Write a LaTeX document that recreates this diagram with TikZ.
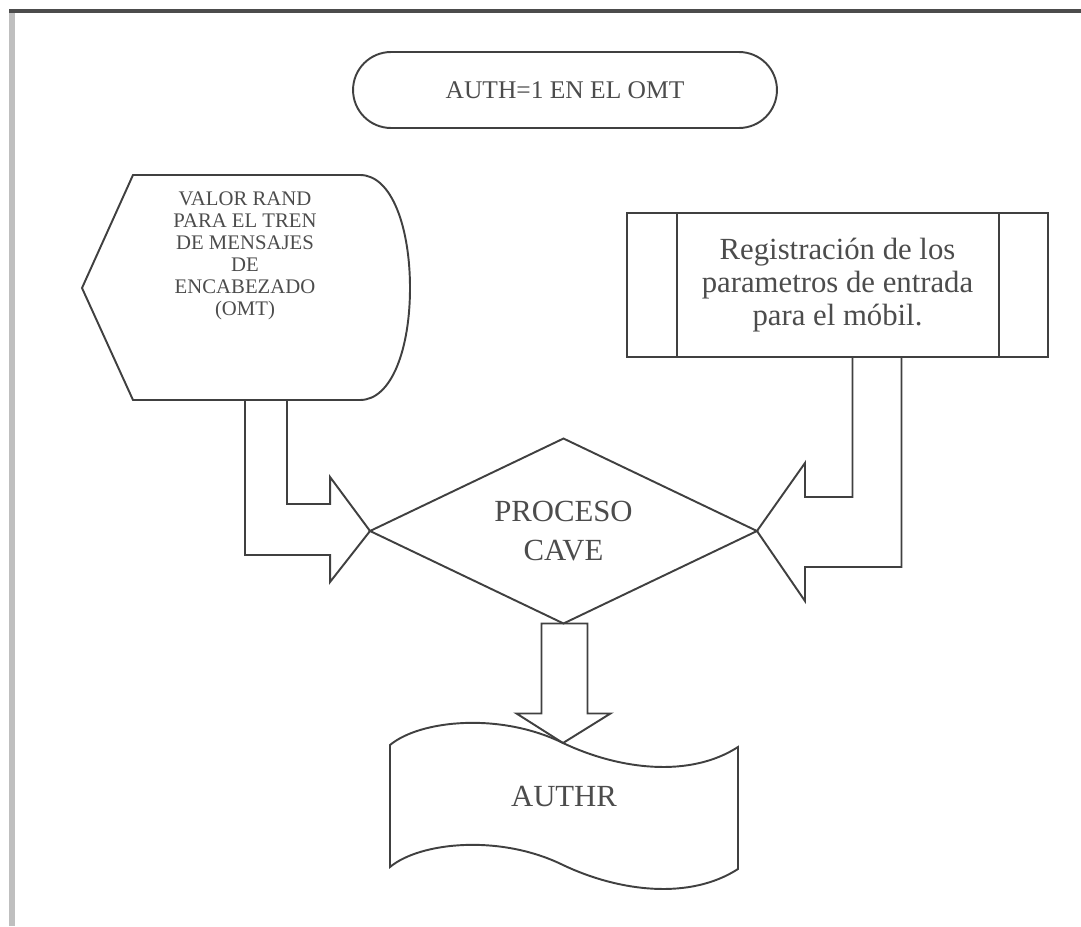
\documentclass[tikz,border=0pt]{standalone}
\usepackage{fontspec}
\setmainfont{Liberation Serif}
\usetikzlibrary{shapes.geometric,calc}
\begin{document}
\begin{tikzpicture}[x=0.02cm,y=-0.02cm,
    shp/.style={draw=black!75,line width=1.1pt,line join=miter},
    txt/.style={text=black!70,align=center,inner sep=0pt}]
    \useasboundingbox (0,0) rectangle (1081,926);
    \draw[black!25,line width=3.5pt] (12,11)--(12,926);
    \draw[black!70,line width=1.8pt] (9,11)--(1081,11);
    \node[shp,txt,rounded corners=0.76cm,minimum width=8.48cm,minimum height=1.52cm,font={\fontsize{14.5}{17}\selectfont}] (auth) at (565,90) {AUTH=1 EN EL OMT};
    \draw[shp] (133,175)--(360,175) .. controls (392,175) and (410,228) .. (410,288) .. controls (410,348) and (392,400) .. (360,400)--(133,400)--(82,288)--cycle;
    \node[txt,font={\fontsize{11.8}{12.5}\selectfont}] (rand) at (245,256) {VALOR RAND\\PARA EL TREN\\DE MENSAJES\\DE\\ENCABEZADO\\(OMT)};
    \coordinate (randS) at (266,400);
    \node[shp,txt,minimum width=8.42cm,minimum height=2.88cm,font={\fontsize{17.5}{18.7}\selectfont}] (reg) at (837.5,285) {Registración de los\\parametros de entrada\\para el móbil.};
    \draw[shp] ([xshift=1.02cm]reg.north west)--([xshift=1.02cm]reg.south west);
    \draw[shp] ([xshift=-1cm]reg.north east)--([xshift=-1cm]reg.south east);
    \node[shp,txt,diamond,aspect=2,outer sep=0pt,minimum width=7.74cm,minimum height=3.7cm,font={\fontsize{17.5}{22}\selectfont}] (cave) at (563.5,531) {PROCESO\\CAVE};
    \draw[shp] ($(randS)+(-21,0)$) |- ($(cave.west)+(-40,24)$) -- ++(0,27) -- (cave.west) -- ($(cave.west)+(-40,-54)$) -- ++(0,27) -| ($(randS)+(21,0)$);
    \draw[shp] ($(reg.south)+(15,0)$) |- ($(cave.east)+(48,-34)$) -- ++(0,-34) -- (cave.east) -- ($(cave.east)+(48,70)$) -- ++(0,-34) -| ($(reg.south)+(64,0)$);
    \draw[shp] (390,745) .. controls (420,720) and (500,712) .. (563,743) .. controls (620,770) and (690,778) .. (738,747)--(738,869) .. controls (690,900) and (620,892) .. (563,865) .. controls (500,834) and (420,842) .. (390,867)--cycle;
    \coordinate (authrN) at (563,743);
    \node[txt,font={\fontsize{17.5}{20}\selectfont}] (authr) at (564,796) {AUTHR};
    \draw[shp] ($(cave.south)+(-22,0)$) -- ++(0,90) -- ++(-25,0) -- (authrN) -- ($(cave.south)+(47,90)$) -- ++(-23,0) -- ++(0,-90) -- cycle;
\end{tikzpicture}
\end{document}
